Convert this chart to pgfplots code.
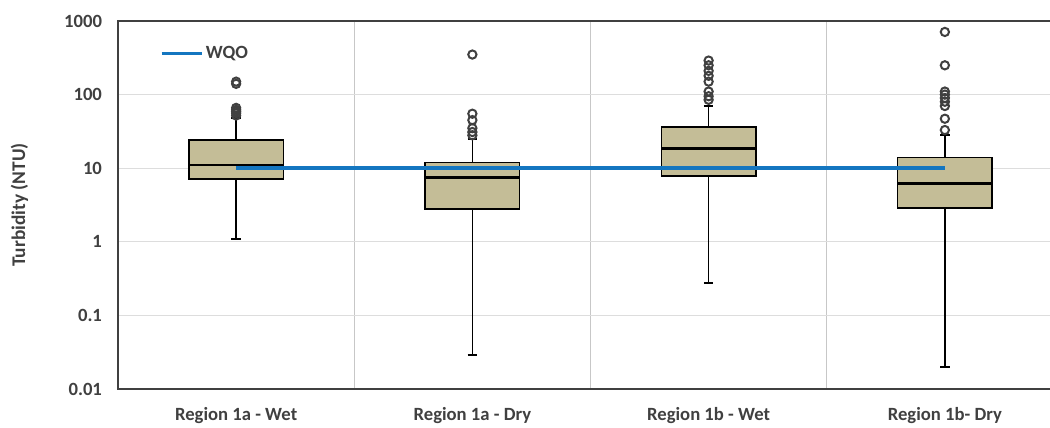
\documentclass[border=0pt]{standalone}
\usepackage{pgfplots}
\pgfplotsset{compat=1.18}
\usepackage{fontspec}
\setmainfont{Carlito}
\definecolor{boxtan}{HTML}{C4BD97}
\definecolor{wqoblue}{RGB}{20,118,192}
\definecolor{axgray}{HTML}{404040}
\definecolor{gridgray}{HTML}{DDDDDD}
\pgfplotsset{
  bx/.style={forget plot, draw=black, fill=boxtan, line width=1.2pt, line join=miter, no marks},
  wh/.style={forget plot, draw=black, line width=1.2pt, no marks},
  md/.style={forget plot, draw=black, line width=1.9pt, no marks},
  ol/.style={forget plot, only marks, mark=o, mark size=3.1pt, mark options={draw=axgray, line width=1.5pt}},
}
\begin{document}
\begin{tikzpicture}
\begin{axis}[
  name=ax,
  scale only axis,
  width=708.75pt, height=276pt,
  ymode=log,
  xmin=-0.5, xmax=3.5,
  ymin=0.01, ymax=1000,
  xtick={0,1,2,3},
  xticklabels={Region 1a - Wet, Region 1a - Dry, Region 1b - Wet, Region 1b- Dry},
  ytick={0.01,0.1,1,10,100,1000},
  yticklabels={0.01,0.1,1,10,100,1000},
  yminorticks=false,
  minor xtick={0.5,1.5,2.5},
  xminorgrids=true, ymajorgrids=true,
  major grid style={gridgray, line width=0.8pt},
  minor grid style={gridgray!90!black, line width=0.8pt},
  major tick length=0pt, minor tick length=0pt,
  axis line style={axgray, line width=1.5pt},
  tick label style={font=\fontsize{14}{16}\selectfont\bfseries, text=axgray},
  yticklabel style={xshift=-8.5pt},
  xticklabel style={yshift=-10pt},
  ylabel={Turbidity (NTU)},
  ylabel style={font=\fontsize{14.5}{16}\selectfont\bfseries, text=axgray, yshift=20pt},
  legend style={at={(rel axis cs:0.044,0.912)}, anchor=west, draw=none, fill=none,
    inner sep=0pt, font=\fontsize{14}{16}\selectfont\bfseries, text=axgray},
  legend cell align=left,
  legend image code/.code={\draw[#1] (0pt,0pt) -- (30pt,0pt);},
]
% Region 1a - Wet
\addplot[wh] coordinates {(0,7.1) (0,1.1)};
\addplot[wh] coordinates {(-0.02,1.1) (0.02,1.1)};
\addplot[wh] coordinates {(0,24) (0,48)};
\addplot[wh] coordinates {(-0.02,48) (0.02,48)};
\addplot[bx] coordinates {(-0.2,7.1) (0.2,7.1) (0.2,24) (-0.2,24) (-0.2,7.1) (0.2,7.1)};
\addplot[md] coordinates {(-0.2,11) (0.2,11)};
\addplot[ol] coordinates {(0,52) (0,56) (0,59) (0,62) (0,66) (0,140) (0,150)};
% Region 1a - Dry
\addplot[wh] coordinates {(1,2.8) (1,0.029)};
\addplot[wh] coordinates {(0.98,0.029) (1.02,0.029)};
\addplot[wh] coordinates {(1,12) (1,25)};
\addplot[wh] coordinates {(0.98,25) (1.02,25)};
\addplot[bx] coordinates {(0.8,2.8) (1.2,2.8) (1.2,12) (0.8,12) (0.8,2.8) (1.2,2.8)};
\addplot[md] coordinates {(0.8,7.5) (1.2,7.5)};
\addplot[ol] coordinates {(1,28) (1,31) (1,35) (1,45) (1,55) (1,350)};
% Region 1b - Wet
\addplot[wh] coordinates {(2,7.8) (2,0.275)};
\addplot[wh] coordinates {(1.98,0.275) (2.02,0.275)};
\addplot[wh] coordinates {(2,36) (2,70)};
\addplot[wh] coordinates {(1.98,70) (2.02,70)};
\addplot[bx] coordinates {(1.8,7.8) (2.2,7.8) (2.2,36) (1.8,36) (1.8,7.8) (2.2,7.8)};
\addplot[md] coordinates {(1.8,18.5) (2.2,18.5)};
\addplot[ol] coordinates {(2,85) (2,95) (2,110) (2,150) (2,180) (2,210) (2,250) (2,290)};
% Region 1b - Dry
\addplot[wh] coordinates {(3,2.9) (3,0.02)};
\addplot[wh] coordinates {(2.98,0.02) (3.02,0.02)};
\addplot[wh] coordinates {(3,14) (3,28)};
\addplot[wh] coordinates {(2.98,28) (3.02,28)};
\addplot[bx] coordinates {(2.8,2.9) (3.2,2.9) (3.2,14) (2.8,14) (2.8,2.9) (3.2,2.9)};
\addplot[md] coordinates {(2.8,6.2) (3.2,6.2)};
\addplot[ol] coordinates {(3,33) (3,47) (3,70) (3,80) (3,90) (3,100) (3,110) (3,250) (3,710)};
% WQO
\addplot[wqoblue, line width=2.6pt, no marks] coordinates {(0,10) (3,10)};
\addlegendentry{WQO}
\end{axis}
\pgfresetboundingbox
\useasboundingbox ([xshift=-88.5pt,yshift=-29.25pt]ax.south west) rectangle ([xshift=699pt,yshift=291.75pt]ax.south west);
\end{tikzpicture}
\end{document}
